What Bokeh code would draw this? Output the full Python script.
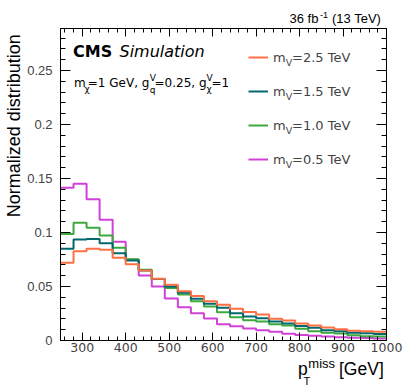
from math import pi
from bokeh.plotting import figure
from bokeh.layouts import row, column
from bokeh.models import (ColumnDataSource, Label, Legend, LegendItem, LinearAxis,
                          FixedTicker, Range1d)
from bokeh.embed import file_html
from bokeh.resources import INLINE

# ---------------- data ----------------
bin_edges = [250, 280, 310, 340, 370, 400, 430, 460, 490, 520, 550, 580, 610,
             640, 670, 700, 730, 760, 790, 820, 850, 880, 910, 940, 970, 1000]

mass_labels = ["=2.5 TeV", "=1.5 TeV", "=1.0 TeV", "=0.5 TeV"]

mv_2p5 = [0.0719, 0.0827, 0.0849, 0.0840, 0.0766, 0.0707, 0.0648, 0.0571, 0.0516,
          0.0457, 0.0411, 0.0364, 0.0330, 0.0293, 0.0263, 0.0240, 0.0202, 0.0185,
          0.0157, 0.0140, 0.0120, 0.0105, 0.0090, 0.0085, 0.0080]
mv_1p5 = [0.0849, 0.0935, 0.0941, 0.0900, 0.0809, 0.0741, 0.0648, 0.0570, 0.0500,
          0.0442, 0.0386, 0.0340, 0.0303, 0.0253, 0.0222, 0.0205, 0.0176, 0.0158,
          0.0134, 0.0117, 0.0096, 0.0086, 0.0072, 0.0066, 0.0060]
mv_1p0 = [0.0985, 0.1090, 0.1043, 0.0972, 0.0858, 0.0753, 0.0654, 0.0570, 0.0485,
          0.0426, 0.0364, 0.0315, 0.0262, 0.0216, 0.0188, 0.0175, 0.0150, 0.0140,
          0.0108, 0.0085, 0.0072, 0.0064, 0.0048, 0.0040, 0.0038]
mv_0p5 = [0.1414, 0.1451, 0.1309, 0.1117, 0.0914, 0.0747, 0.0602, 0.0500, 0.0390,
          0.0309, 0.0253, 0.0204, 0.0150, 0.0132, 0.0112, 0.0095, 0.0080, 0.0063,
          0.0050, 0.0044, 0.0037, 0.0031, 0.0025, 0.0022, 0.0019]

x_major_ticks = [300, 400, 500, 600, 700, 800, 900, 1000]
x_minor_ticks = list(range(260, 1000, 20))
y_major_ticks = [0.0, 0.05, 0.1, 0.15, 0.2, 0.25]
y_tick_labels = ["0", "0.05", "0.1", "0.15", "0.2", "0.25"]
y_minor_ticks = [round(0.01 * i, 2) for i in range(1, 29)]

colors = ["#ff7043", "#00686e", "#3da83d", "#d241d7"]

# ---------------- geometry (screenshot pixels) ----------------
W, H = 407, 391
STRIP_L = 24          # left strip width (y title)
STRIP_T = 27          # top strip height (luminosity)
STRIP_B = 34          # bottom strip height (x title)
X0, X1 = 250, 1000
Y1 = 0.2889
FL, FR, FT, FB = 60, 386, 28, 340   # plot frame in screenshot pixels
MID = 0.36            # baseline -> "middle" anchor offset, in em


def dx(X):
    return X0 + (X - FL) * (X1 - X0) / (FR - FL)


def dy(Y):
    return (FB - Y) * Y1 / (FB - FT)


MAIN_W = W - STRIP_L
MAIN_H = H - STRIP_T - STRIP_B
BL, BR = FL - STRIP_L, W - FR

p = figure(width=MAIN_W, height=MAIN_H, x_range=Range1d(X0, X1), y_range=Range1d(0, Y1),
           output_backend="svg", toolbar_location=None,
           min_border_left=BL, min_border_right=BR,
           min_border_top=FT - STRIP_T, min_border_bottom=(H - STRIP_B) - FB,
           x_axis_location=None, y_axis_location=None)
p.xgrid.visible = False
p.ygrid.visible = False
p.outline_line_color = "black"
p.outline_line_width = 1
p.background_fill_color = "white"
p.border_fill_color = "white"


def style_axis(ax, major_in, minor_in):
    ax.axis_line_color = "black"
    ax.major_tick_in = major_in
    ax.major_tick_out = 0
    ax.minor_tick_in = minor_in
    ax.minor_tick_out = 0
    ax.major_tick_line_color = "black"
    ax.minor_tick_line_color = "black"


xt = FixedTicker(ticks=x_major_ticks, minor_ticks=x_minor_ticks)
yt = FixedTicker(ticks=y_major_ticks, minor_ticks=y_minor_ticks)

bottom = LinearAxis(ticker=xt)
style_axis(bottom, 8, 4)
bottom.major_label_text_font = "DejaVu Sans"
bottom.major_label_text_font_size = "12.5px"
bottom.major_label_standoff = 2
p.add_layout(bottom, "below")

left = LinearAxis(ticker=yt)
style_axis(left, 10, 5)
left.major_label_text_font = "'Liberation Sans Narrow', 'Liberation Sans'"
left.major_label_text_font_size = "13px"
left.major_label_standoff = 8
left.major_label_overrides = {t: s for t, s in zip(y_major_ticks, y_tick_labels)}
p.add_layout(left, "left")

top = LinearAxis(ticker=xt)
style_axis(top, 8, 4)
top.major_label_text_font_size = "0px"
top.major_label_text_color = None
top.major_label_standoff = 0
p.add_layout(top, "above")

right = LinearAxis(ticker=yt)
style_axis(right, 10, 5)
right.major_label_text_font_size = "0px"
right.major_label_text_color = None
right.major_label_standoff = 0
p.add_layout(right, "right")

# ---------------- histograms ----------------
series = [mv_2p5, mv_1p5, mv_1p0, mv_0p5]
renderers = [None] * 4
for i in [3, 2, 1, 0]:
    vals = series[i]
    src = ColumnDataSource(dict(x=bin_edges, y=vals + [vals[-1]]))
    renderers[i] = p.step(x="x", y="y", source=src, mode="after",
                          line_width=2, line_color=colors[i])

legend = Legend(items=[LegendItem(label="m", renderers=[renderers[i]]) for i in range(4)],
                location=(188, 171), orientation="vertical", padding=0, margin=0,
                spacing=14, glyph_width=20, glyph_height=20, label_height=20,
                label_standoff=5, border_line_alpha=0, background_fill_alpha=0,
                label_text_font="DejaVu Sans", label_text_font_size="13px")
p.add_layout(legend)

row_centers = [56.7, 90.7, 124.7, 158.7]
for yc, lab_txt in zip(row_centers, mass_labels):
    p.add_layout(Label(x=dx(285.3), y=dy(yc + 5.5), text="V", text_font="DejaVu Sans",
                       text_font_size="9.5px", text_baseline="middle"))
    p.add_layout(Label(x=dx(291.5), y=dy(yc), text=lab_txt, text_font="DejaVu Sans",
                       text_font_size="13px", text_baseline="middle"))


def lab(fig, x, y, text, size, font="DejaVu Sans", style="normal", angle=0.0):
    fig.add_layout(Label(x=x, y=y, text=text, text_font=font,
                         text_font_size=f"{size}px", text_font_style=style,
                         text_align="left", text_baseline="middle", angle=angle,
                         text_color="black"))


def mlab(X, Ybase, text, size, **kw):
    # place text whose baseline sits at screenshot row Ybase
    lab(p, dx(X), dy(Ybase - MID * size), text, size, **kw)


# CMS Simulation
mlab(72.5, 56.7, "CMS", 16, style="bold")
mlab(119, 56.7, "Simulation", 16, style="italic")

# model parameters
mlab(73.5, 86.7, "m", 12)
mlab(84, 91.5, "χ", 9)
mlab(87.3, 86.7, "=1 GeV, g", 12)
mlab(149.3, 80.7, "V", 9)
mlab(149.3, 93, "q", 9)
mlab(154, 86.7, "=0.25, g", 12)
mlab(206, 80.7, "V", 9)
mlab(206, 91.5, "χ", 9)
mlab(211, 86.7, "=1", 12)


# ---------------- text strips ----------------
def strip(w, h, xr, bl=0, br=0):
    f = figure(width=w, height=h, x_range=xr, y_range=Range1d(0, h),
               output_backend="svg", toolbar_location=None,
               min_border_left=bl, min_border_right=br,
               min_border_top=0, min_border_bottom=0,
               x_axis_location=None, y_axis_location=None)
    f.xgrid.visible = False
    f.ygrid.visible = False
    f.outline_line_color = None
    f.background_fill_color = "white"
    f.border_fill_color = "white"
    return f


# left strip: y axis title, reading upward from its start at row 216.7
ls = strip(STRIP_L, H, Range1d(0, STRIP_L))
lab(ls, 20 - MID * 18, H - 216.7, "Normalized distribution", 18,
    font="Liberation Sans", angle=pi / 2)

# top strip: luminosity; its frame lines up with the plot frame
ts = strip(MAIN_W, STRIP_T, Range1d(X0, X1), BL, BR)


def tlab(X, Ybase, text, size, **kw):
    lab(ts, dx(X), STRIP_T - (Ybase - MID * size), text, size, **kw)


tlab(289, 23.0, "36 fb", 13, font="Liberation Sans")
tlab(319.5, 18.0, "-1", 9, font="Liberation Sans")
tlab(331.5, 23.0, "(13 TeV)", 13, font="Liberation Sans")

# bottom strip: x axis title; its frame lines up with the plot frame
bs = strip(MAIN_W, STRIP_B, Range1d(X0, X1), BL, BR)


def blab(X, Ybase, text, size, **kw):
    lab(bs, dx(X), H - (Ybase - MID * size), text, size, **kw)


blab(297.5, 374.5, "p", 17.5, font="Liberation Sans")
blab(303, 384, "T", 11, font="Liberation Sans")
blab(307.8, 367.3, "miss", 13, font="Liberation Sans")
blab(338.5, 374.5, "[GeV]", 17.5, font="Liberation Sans")

page = row(ls, column(ts, p, bs, spacing=0), spacing=0)

open("out.html", "w").write(file_html(page, INLINE))
